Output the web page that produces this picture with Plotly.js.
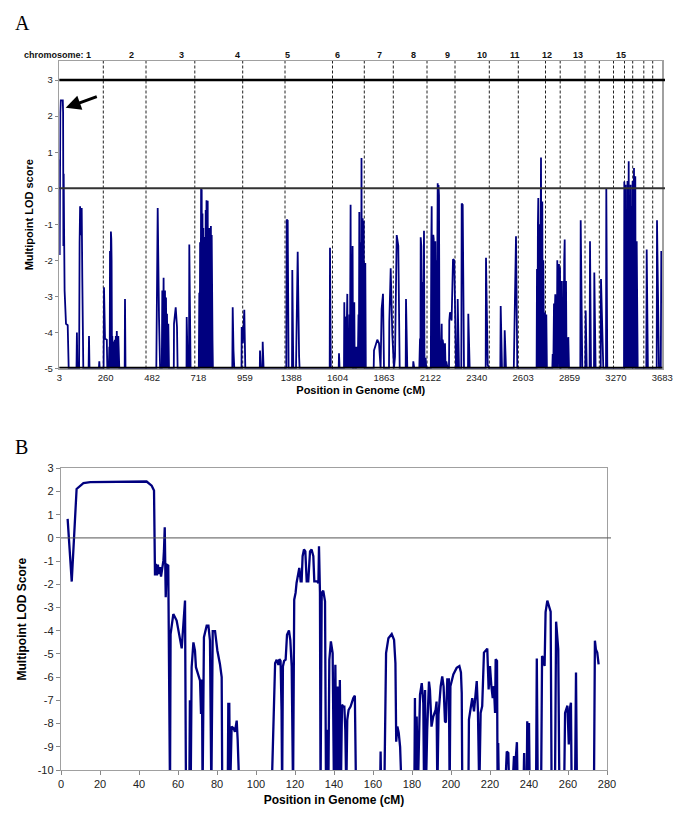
<!DOCTYPE html>
<html>
<head>
<meta charset="utf-8">
<script src="https://cdn.plot.ly/plotly-3.0.1.min.js"></script>
<style>html,body{margin:0;padding:0;background:#fff;}#chart{width:685px;height:819px;}</style>
</head>
<body>
<div id="chart"></div>
<script>
// ---------- Panel A: genome-wide scan (marker index along a category axis) ----------
const posA = [0,0.4,1,1.5,3.5,3.8,4.1,4.4,4.8,5.3,6.7,8.4,9.4,
17.2,17.6,18.1,
19.8,20.3,20.8,21.6,22.4,23,23.3,24,
29.3,29.7,30.2,
39.6,40,40.4,
44.3,44.7,45.7,47.5,48,
49.5,50,50.4,50.7,51.2,51.6,52,52.3,52.7,53,53.5,54,54.5,55,55.5,56,56.5,57,57.5,58.2,59,60,
65.4,65.7,66.2,
97,97.4,98.4,99.7,100.8,
102.5,103,103.5,104.3,104.8,105.7,106.2,106.7,107.2,107.7,108.3,109,109.7,
114.5,114.7,116.4,117.7,118.3,
127.2,127.4,128.4,
129.7,130,131.3,
139.5,140,140.4,140.8,141.2,141.8,142.4,142.8,143.2,143.6,144,144.4,144.8,145.2,145.6,146,146.4,146.8,147.2,147.6,148,148.4,148.8,149.2,149.6,150,150.4,150.8,151.2,151.6,152,152.4,153.2,153.6,
173,173.4,174.2,175,
182.2,182.4,183.5,185,186,
200.5,200.7,201.5,203.2,203.4,204.3,
227,227.4,228.4,229.3,
232.7,233,234,
236.7,237,238.4,239.8,240.3,
270.4,270.7,271.5,
279.4,279.7,280.3,
284.7,285,285.4,285.8,286.4,286.8,287.3,288,288.4,288.8,289.3,289.7,290.1,290.6,291.3,291.7,292.1,292.5,292.9,293.3,293.7,294.2,295,295.4,295.8,296.2,296.7,297.5,298,298.4,299.2,299.6,300,300.4,300.8,301.4,301.8,302.2,302.6,303,303.4,303.8,304.4,304.8,305.2,305.6,306,306.5,307.4,
314.4,314.7,316.3,318,319.7,321.3,322.3,323.7,324.7,
329.7,330,331.4,333,334.7,335.7,337.4,339,340.4,
346.4,346.7,348,
353.7,354,355,
360,360.7,361.1,361.4,362,362.5,363,363.5,364,364.7,365.2,366.3,367,
371.5,372,372.4,372.8,373.2,373.6,374,374.4,374.8,375.2,375.6,376,376.4,377,377.4,377.8,378.4,378.8,379.2,379.7,380.2,380.7,381.2,381.8,382.4,382.8,383.4,384,384.6,385.2,385.7,386.3,387,388.3,
389.7,390,390.7,392.3,393.7,395,396.7,
398,398.4,399.7,
402,402.4,403.4,404.7,
408.7,409,410.4,
426.4,426.7,428.4,429.7,
441,441.4,442.7,
445,445.4,446.7,
454.5,455,456.7,458,
477.3,477.7,478.2,478.6,479,479.5,480,480.3,480.8,481.2,481.7,482.2,482.6,483,483.5,484,484.4,485,485.7,486.3,487,487.6,
493,493.4,494,494.7,495.1,495.5,496,496.5,497,497.5,498,498.4,498.8,499.2,499.7,500.3,500.7,501.1,501.4,502,502.5,503,503.5,504,504.4,504.9,505.4,505.9,506.3,506.7,507.3,508,508.5,509,509.7,
521,521.4,522.3,523,
526,526.4,527.4,
530.3,530.7,531.7,
534.7,535,536.3,
541.4,541.7,543,544,
546.7,547,548,
564.7,565,565.4,565.7,566.3,566.7,567,567.6,568,568.2,568.8,569.4,569.8,570,570.6,571,571.3,572,572.6,573,573.3,573.7,574,574.7,575,575.3,576,576.4,576.7,577.4,577.8,578.4,
587,587.4,588.6,
597.4,597.7,598.7,599.7,
601.5,602];
const lodA = [0.8,-1.85,2.1,2.44,2.44,2.1,-1.6,0.4,-1.2,-2.84,-3.76,-3.8,-5,
-5,-4.0,-5,
-5,-1.5,-0.5,-1.3,-0.55,-2.5,-4.0,-5,
-5,-4.1,-5,
-5,-4.8,-5,
-5,-2.75,-4.17,-4.2,-5,
-5,-4.4,-5,-1.74,-5,-1.2,-1.4,-2.0,-5,-4.1,-5,-4.25,-5,-4.2,-4.2,-5,-4.1,-5,-3.96,-5,-4.1,-5,
-5,-3.07,-5,
-5,-3.25,-0.55,-3.57,-5,
-5,-2.84,-5,-2.48,-5,-2.84,-5,-3.03,-5,-3.48,-5,-3.76,-5,
-5,-3.76,-3.3,-3.85,-5,
-5,-3.57,-5,
-5,-1.56,-5,
-5,-2.9,-5,-1.5,-5,0.0,-0.05,-5,-0.7,-5,-1.1,-5,-1.35,-5,-1.8,-5,-0.6,-5,-0.33,-5,-1.6,-0.35,-5,-1.2,-5,-1.1,-5,-1.9,-5,-1.05,-5,-1.3,-4.2,-5,
-5,-3.3,-4.5,-5,
-5,-3.85,-4.3,-3.37,-5,
-5,-4.5,-5,-5,-4.26,-5,
-5,-0.87,-0.9,-5,
-5,-2.27,-5,
-5,-4.08,-1.76,-4.67,-5,
-5,-1.65,-5,
-5,-4.58,-5,
-5,-3.16,-5,-3.57,-3.6,-5,-3.3,-2.93,-5,-4.4,-4.4,-5,-3.5,-5,-0.46,-5,-2.5,-5,-1.6,-1.6,-5,-5,-3.16,-5,-4.4,-5,-5,-4.4,-5,-5,-3.5,-5,-0.66,-5,-2.3,-1.5,-5,0.84,-5,-1.8,-0.83,-5,-0.9,-5,-4.5,-2.1,-2.1,-5,-5,
-5,-4.5,-4.36,-4.2,-4.3,-5,-3.35,-2.93,-5,
-5,-3.71,-2.22,-4.05,-5,-4.67,-1.3,-1.6,-5,
-5,-3.07,-5,
-5,-4.8,-5,
-5,-4.17,-5,-1.36,-1.6,-5,-2.6,-5,-1.4,-1.18,-5,-4.7,-5,
-5,-1.5,-0.5,-5,-3,-5,-1.29,-1.4,-5,-4,-1.47,-1.47,-5,-2,-5,-1.2,0.14,-5,0.09,-0.2,-5,-4.4,-5,-3.9,-3.76,-5,-4.2,-4.36,-5,-4.3,-4.3,-5,-4.8,-5,
-5,-3.67,-3.44,-3.67,-1.97,-2.0,-5,
-5,-3.07,-5,
-5,-0.42,-0.46,-5,
-5,-3.48,-5,
-5,-1.93,-4.9,-5,
-5,-3.27,-5,
-5,-3.94,-5,
-5,-4.3,-1.33,-5,
-5,-2.24,-5,-1.0,-0.27,-5,-2.0,-1.0,-5,-1.5,0.85,-5,-1.5,-0.37,-5,-2,-3.43,-5,-3.45,-5,-3.5,-5,
-5,-4.6,-5,-3.2,-5,-3.4,-2.94,-5,-4.5,-5,-2.0,-5,-3.5,-2.1,-2.1,-5,-2.2,-5,-5,-2.57,-5,-3.3,-5,-2.57,-5,-2.0,-1.42,-5,-2.57,-2.57,-5,-4.13,-5,-4.13,-5,
-5,-0.89,-4.1,-5,
-5,-3.39,-5,
-5,-1.47,-5,
-5,-2.34,-5,
-5,-2.52,-4.4,-5,
-5,0,-5,
-5,0.19,-5,-1.5,0.1,-5,-2.5,-1.0,-5,0.2,-5,0.75,-5,-0.2,-2,-5,0.1,-5,-0.5,-5,0.2,-5,-2.5,0.56,-5,-1,0.33,-5,-5,-1.47,-5,-5,
-5,-1.7,-5,
-5,-0.89,-3.5,-5,
-5,-1.74];

const tickLabelsA = ['3','260','482','718','959','1388','1604','1863','2122','2340','2603','2859','3270','3683'];
const chromNames = ['chromosome: 1','2','3','4','5','6','7','8','9','10','11','12','13','15'];
const chromLabelPos = [33.5,71.7,121.7,177.7,227.7,277.7,319.7,353.7,387.7,422.4,455.7,487.4,518.7,561.7];
const chromBounds = [44,86.7,135.5,183.4,225.7,273.2,305,334,367.7,395.7,430,459,486.2,500.9,525.7,540,554.2,565.2,573.4,584.5,593.4];

// ---------- Panel B: chromosome 1 (cM) ----------
const posB = [3.4,5.5,8.0,11.5,15,25,35,43.9,46.5,47.7,48.2,48.7,49.2,49.7,50.1,50.8,51.3,52.5,52.8,53.2,53.7,54.2,55.0,55.9,
56.2,57.6,59.3,61.9,63.6,64.1,65.8,66.1,66.5,67.0,67.9,68.7,69.2,71.3,71.8,72.3,72.6,73.3,74.7,75.6,76.4,77.1,77.8,79,80.2,81.5,82.4,82.7,
85.5,85.8,86.3,86.7,87.5,88.5,89.2,90.1,90.6,91.5,
108,109.8,110.6,111.5,112,112.6,113.1,113.4,113.8,114.4,115.2,115.9,116.9,117.6,118.3,119,119.6,120.3,120.8,121.7,122.2,122.9,123.4,123.9,124.6,125.3,126,126.8,127.7,128.5,129.4,129.9,131.4,132,132.3,132.8,133.1,133.7,134.5,135.4,135.9,136.7,137.1,137.6,138.4,139.3,140,140.7,141.3,141.9,142.5,143,143.5,144.1,144.8,145.3,145.8,146.3,146.8,147.5,148.5,149.9,150.7,151.3,
163.6,163.9,164.2,165.8,166.7,167.9,169.6,170.8,171.5,171.9,172.5,173.2,173.9,174.7,
181.2,181.5,181.8,182.4,183,184.1,185,185.8,186.2,186.7,187.1,187.8,188.7,189.2,190,190.9,192.1,192.6,193,193.6,194.7,195.5,196.2,196.9,197.4,198.1,198.9,199.3,199.7,201.2,202.9,204.3,205.1,205.5,205.8,
208.9,209.2,210.1,210.9,211.8,213.2,213.8,214.5,215.2,216,216.9,218.6,219.3,220,220.7,221.4,222,222.6,222.9,223.6,223.9,224.2,224.6,
227.7,228.6,229.4,229.9,231.4,232.3,232.7,233.3,233.8,234.2,
237.1,237.5,237.9,238.8,239.1,239.5,239.8,240,240.4,
243.6,244,244.5,246.2,246.7,247.3,248,248.5,249.4,250.4,251.1,251.6,
253.3,253.9,255,255.6,
258,258.5,259.7,260.4,261,261.5,261.9,
263.6,264.1,264.6,
273.3,273.8,274.3,275,275.7];
const lodB = [0.82,-1.88,2.11,2.36,2.4,2.41,2.41,2.43,2.25,2.04,-1.62,-1.12,-1.62,-1.15,-1.55,-1.26,-1.67,-0.98,-0.55,0.46,-2.56,-1.15,-1.19,-11,
-4.14,-3.28,-3.56,-4.76,-2.7,-11,-11,-7.0,-11,-5.57,-4.5,-4.86,-5.57,-6.15,-7.59,-6.1,-11,-4.28,-3.78,-3.78,-4.43,-11,-4.02,-4.02,-4.86,-5.43,-6.0,-11,
-11,-7.15,-7.15,-11,-8.13,-8.2,-8.35,-7.87,-8.7,-11,
-11,-5.4,-5.25,-5.47,-5.22,-5.3,-7.4,-11,-5.54,-5.3,-5.25,-4.17,-3.99,-4.4,-5.54,-11,-2.66,-2.37,-1.94,-1.51,-1.29,-1.87,-1.87,-0.79,-0.5,-0.58,-1.87,-1.87,-0.58,-0.5,-0.79,-1.87,-1.87,-1.95,-0.36,-2.37,-11,-2.37,-2.27,-2.73,-11,-8.27,-11,-5.25,-4.46,-4.96,-11,-5.47,-11,-6.4,-11,-6.12,-11,-7.19,-7.27,-7.27,-8.27,-11,-7.84,-7.41,-7.27,-6.9,-6.8,-11,
-11,-9.2,-11,-11,-4.96,-4.32,-4.14,-4.39,-5.4,-8.78,-8.13,-8.4,-9.0,-11,
-11,-6.9,-11,-7.7,-11,-6.76,-6.26,-7.12,-11,-6.55,-11,-8.27,-6.19,-6.55,-8.13,-7.7,-7.41,-7.05,-11,-7.6,-6.4,-5.97,-6.4,-7.9,-7.95,-6.1,-6.1,-11,-6.39,-5.88,-5.6,-5.52,-5.8,-6.68,-11,
-11,-7.83,-7.33,-6.9,-7.47,-6.17,-7.4,-11,-7.54,-7.25,-4.94,-4.77,-6.53,-5.52,-6.39,-6.9,-6.39,-7.54,-5.23,-5.3,-11,-8.84,-11,
-11,-9.2,-9.27,-11,-11,-9.4,-11,-9.4,-8.8,-11,
-11,-9.27,-11,-11,-7.9,-11,-11,-7.98,-11,
-11,-5.2,-11,-11,-5.09,-5.2,-5.52,-3.2,-2.7,-2.99,-3.18,-11,
-11,-3.61,-4.8,-11,
-11,-7.54,-7.23,-8.9,-7.33,-7.1,-11,
-11,-5.8,-11,
-11,-4.43,-4.8,-4.94,-5.45];

const yTicksA = [-5,-4,-3,-2,-1,0,1,2,3];
const yTicksB = [-10,-9,-8,-7,-6,-5,-4,-3,-2,-1,0,1,2,3];
const xTicksB = [0,20,40,60,80,100,120,140,160,180,200,220,240,260,280];

// ---------- layout geometry ----------
const W = 685, H = 819;
const NA = 603;                 // marker-index span of panel A
const axA = [59.3/W, 662.3/W], ayA = [1-368.5/H, 1-61/H];
const axB = [61/W, 607/W],     ayB = [1-770/H, 1-468.3/H];
const NAVY = '#00007f';
const FONT = 'Arial, "Liberation Sans", sans-serif';

const traces = [
  {x: posA, y: lodA, xaxis:'x', yaxis:'y', type:'scatter', mode:'lines',
   line:{color:NAVY, width:1.8}, hoverinfo:'skip'},
  {x: posB, y: lodB, xaxis:'x2', yaxis:'y2', type:'scatter', mode:'lines',
   line:{color:NAVY, width:2.3}, hoverinfo:'skip'}
];

const shapes = [];
chromBounds.forEach(b => shapes.push({type:'line', xref:'x', yref:'paper', x0:b, x1:b, y0:ayA[0], y1:ayA[1],
  line:{color:'#222', width:1, dash:'3px,2px'}, layer:'below'}));
shapes.push({type:'line', xref:'paper', yref:'y', x0:axA[0], x1:665/W, y0:3, y1:3, line:{color:'#000', width:2.5}, layer:'above'});
shapes.push({type:'line', xref:'paper', yref:'y', x0:axA[0], x1:665/W, y0:0, y1:0, line:{color:'#333', width:2}, layer:'above'});
shapes.push({type:'line', xref:'paper', yref:'y', x0:axA[0], x1:axA[1], y0:-5, y1:-5, line:{color:'#000', width:3.5}, layer:'above'});
shapes.push({type:'line', xref:'paper', yref:'y2', x0:axB[0], x1:611/W, y0:0, y1:0, line:{color:'#555', width:1}, layer:'above'});

const annotations = [];
chromNames.forEach((n,i) => annotations.push({xref:'x', yref:'paper', x:chromLabelPos[i], y:1-55/H,
  text:'<b>'+n+'</b>', showarrow:false, xanchor: i===0 ? 'right' : 'center', yanchor:'middle',
  font:{family:FONT, size:9, color:'#111'}}));
annotations.push({xref:'paper', yref:'paper', x:22/W, y:1-23/H, text:'A', showarrow:false,
  xanchor:'center', yanchor:'middle', font:{family:'"Liberation Serif", "Times New Roman", serif', size:20, color:'#000'}});
annotations.push({xref:'paper', yref:'paper', x:21/W, y:1-447/H, text:'B', showarrow:false,
  xanchor:'center', yanchor:'middle', font:{family:'"Liberation Serif", "Times New Roman", serif', size:20, color:'#000'}});
annotations.push({xref:'x', yref:'y', x:6.4, y:2.23, ax:32.6, ay:-11.7, text:'', showarrow:true,
  arrowhead:2, arrowsize:1, arrowwidth:3, arrowcolor:'#000'});

const tickFontA = {family:FONT, size:9.5, color:'#222'};
const tickFontB = {family:FONT, size:11, color:'#222'};

const layout = {
  width: W, height: H,
  margin: {l:0, r:0, t:0, b:0},
  paper_bgcolor:'#fff', plot_bgcolor:'#fff',
  showlegend:false, hovermode:false,
  font:{family:FONT, color:'#000'},
  xaxis: {domain:axA, anchor:'y', range:[0, NA],
    tickmode:'array', tickvals: tickLabelsA.map((_,i)=> i*NA/(tickLabelsA.length-1)), ticktext: tickLabelsA,
    showgrid:false, zeroline:false, showline:true, mirror:true, linecolor:'#a0a0a0', linewidth:1.5,
    ticks:'', tickfont:tickFontA,
    title:{text:'<b>Position in Genome (cM)</b>', font:{family:FONT, size:11, color:'#000'}, standoff:4}},
  yaxis: {domain:ayA, anchor:'x', range:[-5, 3.53],
    tickmode:'array', tickvals:yTicksA, ticktext:yTicksA.map(String),
    showgrid:false, zeroline:false, showline:true, mirror:true, linecolor:'#a0a0a0', linewidth:1.5,
    ticks:'outside', ticklen:3, tickcolor:'#888', tickfont:tickFontA,
    title:{text:'<b>Multipoint LOD score</b>', font:{family:FONT, size:11, color:'#000'}, standoff:8}},
  xaxis2: {domain:axB, anchor:'y2', range:[0, 280],
    tickmode:'array', tickvals:xTicksB, ticktext:xTicksB.map(String),
    showgrid:false, zeroline:false, showline:true, mirror:true, linecolor:'#a0a0a0', linewidth:1.2,
    ticks:'outside', ticklen:4, tickcolor:'#888', tickfont:tickFontB,
    title:{text:'<b>Position in Genome (cM)</b>', font:{family:FONT, size:12, color:'#000'}, standoff:6}},
  yaxis2: {domain:ayB, anchor:'x2', range:[-10, 3],
    tickmode:'array', tickvals:yTicksB, ticktext:yTicksB.map(String),
    showgrid:false, zeroline:false, showline:true, mirror:true, linecolor:'#a0a0a0', linewidth:1.2,
    ticks:'outside', ticklen:4, tickcolor:'#888', tickfont:tickFontB,
    title:{text:'<b>Multipoint LOD Score</b>', font:{family:FONT, size:12, color:'#000'}, standoff:8}},
  shapes: shapes,
  annotations: annotations
};

Plotly.newPlot('chart', traces, layout, {staticPlot:true, displayModeBar:false});
</script>
</body>
</html>
